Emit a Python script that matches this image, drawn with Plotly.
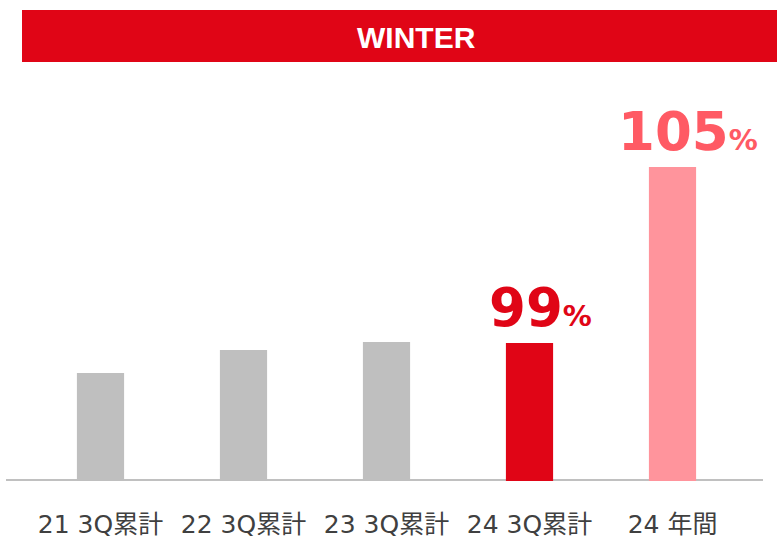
import plotly.graph_objects as go

categories = ["21 3Q累計", "22 3Q累計", "23 3Q累計", "24 3Q累計", "24 年間"]
values = [108, 131, 139, 138, 314]
bar_colors = ["#BFBFBF", "#BFBFBF", "#BFBFBF", "#E00516", "#FF949C"]
labels = {"24 3Q累計": ("99", "#E00516"), "24 年間": ("105", "#FF5A64")}
title_text = "WINTER"

W, H = 777, 536
L, R, T, B = 29, 33, 100, 55
pw = W - L - R
ph = H - T - B

def px_x(p):
    return (p - L) / pw

def px_y(p):
    return (H - B - p) / ph

fig = go.Figure()
fig.add_trace(go.Bar(
    x=categories, y=values, marker=dict(color=bar_colors, line=dict(width=0)),
    width=0.33, hoverinfo="skip",
))

# baseline
fig.add_shape(type="line", xref="paper", yref="paper",
              x0=px_x(6), x1=px_x(763), y0=px_y(480), y1=px_y(480),
              line=dict(color="#C0C0C0", width=2), layer="below")
# banner
fig.add_shape(type="rect", xref="paper", yref="paper",
              x0=px_x(22), x1=px_x(777), y0=px_y(62), y1=px_y(10),
              fillcolor="#E00516", line=dict(width=0), layer="above")
fig.add_annotation(xref="paper", yref="paper", x=px_x(416.5), y=px_y(37),
                   text="<b>%s</b>" % title_text, showarrow=False,
                   xanchor="center", yanchor="middle",
                   font=dict(family="Liberation Sans, Arial", size=30, color="white"))

offsets = {"24 3Q累計": (11, 174), "24 年間": (15, 350)}
for cat, (num, col) in labels.items():
    dx, yv = offsets[cat]
    fig.add_annotation(x=cat, y=yv, xref="x", yref="y", xshift=dx,
                       text="<b>%s<span style='font-size:29px'>%%</span></b>" % num,
                       showarrow=False, xanchor="center", yanchor="middle",
                       font=dict(family="DejaVu Sans, Verdana", size=53, color=col))

fig.update_layout(
    template="none",
    width=W, height=H,
    margin=dict(l=L, r=R, t=T, b=B, pad=0, autoexpand=False),
    plot_bgcolor="white", paper_bgcolor="white",
    showlegend=False, bargap=0.67,
    xaxis=dict(showgrid=False, zeroline=False, showline=False, automargin=False,
               range=[-0.5, len(categories) - 0.5], autorange=False,
               ticks="outside", ticklen=21, tickcolor="rgba(0,0,0,0)",
               tickfont=dict(family="DejaVu Sans, Noto Sans CJK JP", size=25, color="#404040"),
               fixedrange=True),
    yaxis=dict(range=[0, ph], autorange=False, visible=False, fixedrange=True, automargin=False),
)

fig.write_html("out.html", config={"displayModeBar": False},
               post_script="document.body.style.margin='0';document.body.style.overflow='hidden';")
